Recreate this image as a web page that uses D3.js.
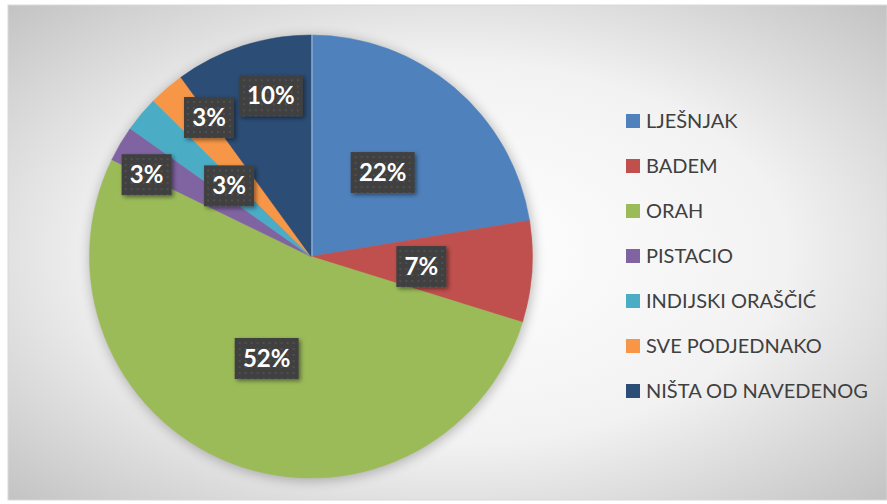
<!DOCTYPE html>
<html>
<head>
<meta charset="utf-8">
<script src="https://cdn.jsdelivr.net/npm/d3@7"></script>
<style>
  body { margin: 0; background: #fff; }
  svg { display: block; }
</style>
</head>
<body>
<svg width="887" height="504"></svg>
<script>
// data (percent of answers)
var categories = ["LJEŠNJAK", "BADEM", "ORAH", "PISTACIO", "INDIJSKI ORAŠČIĆ", "SVE PODJEDNAKO", "NIŠTA OD NAVEDENOG"];
var values = [22.4, 7.4, 52.4, 2.6, 2.6, 2.6, 10.0];
var colors = ["#4f81bd", "#c0504d", "#9bbb59", "#8064a2", "#4bacc6", "#f79646", "#2c4d75"];

// where each label sits: fraction of the radius and a small turn in degrees (excel "best fit")
var labelRadius = [0.5, 0.5, 0.5, 0.83, 0.49, 0.78, 0.75];
var labelTurn = [0, 1, 2, -4, 1, 4.5, 4];

var svg = d3.select("svg"),
    width = +svg.attr("width"),
    height = +svg.attr("height");

var defs = svg.append("defs");

var bg = defs.append("radialGradient").attr("id", "bg")
    .attr("cx", "50%").attr("cy", "50%").attr("r", "70%");
bg.append("stop").attr("offset", "0%").attr("stop-color", "#ffffff");
bg.append("stop").attr("offset", "55%").attr("stop-color", "#f2f2f2");
bg.append("stop").attr("offset", "100%").attr("stop-color", "#c4c4c4");

var dots = defs.append("pattern").attr("id", "dots")
    .attr("width", 6).attr("height", 6).attr("patternUnits", "userSpaceOnUse");
dots.append("rect").attr("width", 6).attr("height", 6).attr("fill", "#404040");
dots.append("circle").attr("cx", 3).attr("cy", 3).attr("r", 1).attr("fill", "#555555");

var shadow = defs.append("filter").attr("id", "shadow")
    .attr("x", "-20%").attr("y", "-20%").attr("width", "150%").attr("height", "150%");
shadow.append("feDropShadow").attr("dx", 2).attr("dy", 2).attr("stdDeviation", 2)
    .attr("flood-color", "#000").attr("flood-opacity", 0.45);

var pieShadow = defs.append("filter").attr("id", "pieShadow")
    .attr("x", "-20%").attr("y", "-20%").attr("width", "140%").attr("height", "140%");
pieShadow.append("feGaussianBlur").attr("stdDeviation", 6);

// chart area
svg.append("rect")
    .attr("x", 8).attr("y", 5)
    .attr("width", width - 8).attr("height", 495)
    .attr("fill", "url(#bg)")
    .attr("stroke", "#d9d9d9").attr("stroke-width", 1);

var cx = 311, cy = 256.5, radius = 221.5;

var pie = d3.pie().sort(null).value(function(d) { return d; });
var arcs = pie(values);

var arc = d3.arc().innerRadius(0).outerRadius(radius);

var g = svg.append("g").attr("transform", "translate(" + cx + "," + cy + ")");

g.append("circle")
    .attr("cx", 1).attr("cy", 2)
    .attr("r", radius + 1)
    .attr("fill", "#000")
    .attr("opacity", 0.25)
    .attr("filter", "url(#pieShadow)");

g.append("g").selectAll("path")
  .data(arcs)
  .enter().append("path")
    .attr("d", arc)
    .attr("fill", function(d, i) { return colors[i]; })
    .attr("stroke", function(d, i) { return colors[i]; })
    .attr("stroke-width", 0.5);

// thin highlight where the first slice starts
g.append("line")
    .attr("x1", 1).attr("y1", 0)
    .attr("x2", 1).attr("y2", -radius)
    .attr("stroke", "#ffffff").attr("stroke-opacity", 0.5).attr("stroke-width", 1);

var label = g.append("g").selectAll("g")
    .data(arcs)
  .enter().append("g")
    .attr("transform", function(d, i) {
      var a = (d.startAngle + d.endAngle) / 2 + labelTurn[i] * Math.PI / 180,
          r = radius * labelRadius[i];
      return "translate(" + (Math.sin(a) * r) + "," + (-Math.cos(a) * r) + ")";
    });

label.append("rect")
    .attr("x", function(d) { return Math.round(d.data) >= 10 ? -32 : -25; })
    .attr("y", -20)
    .attr("width", function(d) { return Math.round(d.data) >= 10 ? 64 : 50; })
    .attr("height", 41)
    .attr("fill", "url(#dots)")
    .attr("filter", "url(#shadow)");

label.append("text")
    .text(function(d) { return Math.round(d.data) + "%"; })
    .attr("text-anchor", "middle")
    .attr("dy", "0.36em")
    .attr("fill", "#ffffff")
    .attr("font-family", "Lato, 'Open Sans', sans-serif")
    .attr("font-weight", "bold")
    .attr("font-size", "24px");

// legend
var legend = svg.append("g").selectAll("g")
    .data(categories)
  .enter().append("g")
    .attr("transform", function(d, i) { return "translate(626," + (121 + i * 45) + ")"; });

legend.append("rect")
    .attr("x", 0).attr("y", -7)
    .attr("width", 14).attr("height", 14)
    .attr("fill", function(d, i) { return colors[i]; });

legend.append("text")
    .text(function(d) { return d; })
    .attr("x", 20)
    .attr("dy", "0.36em")
    .attr("fill", "#404040")
    .attr("font-family", "Lato, 'Open Sans', sans-serif")
    .attr("font-size", "20px");
</script>
</body>
</html>
